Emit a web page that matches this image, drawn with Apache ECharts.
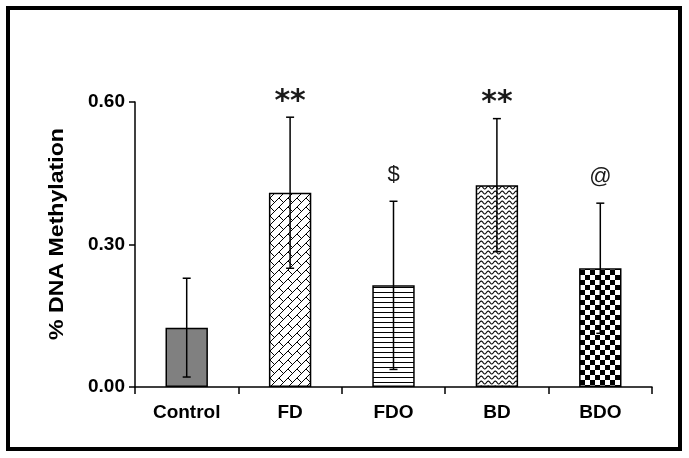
<!DOCTYPE html>
<html>
<head>
<meta charset="utf-8">
<script src="https://cdn.jsdelivr.net/npm/echarts@6/dist/echarts.min.js"></script>
<style>
html,body{margin:0;padding:0;background:#fff;}
#c{width:689px;height:458px;}
</style>
</head>
<body>
<div id="c"></div>
<script>
// ---- data ----
var categories = ['Control', 'FD', 'FDO', 'BD', 'BDO'];
var means = [0.125, 0.409, 0.214, 0.425, 0.250];
var sds = [0.104, 0.159, 0.177, 0.140, 0.137];
var marks = ['', '**', '$', '**', '@'];
var markY = [0, 0.60, 0.446, 0.598, 0.442];
var yTicks = [0, 0.3, 0.6];
var yTitle = '% DNA Methylation';

// ---- patterns ----
function tile(w, h, draw) {
  var c = document.createElement('canvas');
  c.width = w; c.height = h;
  var g = c.getContext('2d');
  g.fillStyle = '#fff';
  g.fillRect(0, 0, w, h);
  draw(g, w, h);
  return c;
}
var brick = tile(9, 9, function (g, T) {
  g.strokeStyle = '#000'; g.lineWidth = 1;
  for (var dx = -T; dx <= T; dx += T) for (var dy = -T; dy <= T; dy += T) {
    g.beginPath();
    g.moveTo(dx, dy + T); g.lineTo(dx + T, dy);
    g.moveTo(dx, dy); g.lineTo(dx + T / 2, dy + T / 2);
    g.stroke();
  }
});
var hlines = tile(4, 5, function (g, w, h) {
  g.fillStyle = '#000';
  g.fillRect(0, 2, w, 1);
});
var waves = tile(7, 5, function (g, w, h) {
  g.strokeStyle = '#000'; g.lineWidth = 1.1;
  g.beginPath();
  for (var x = -1; x <= w + 1; x += 0.5) {
    var y = 2.5 + 1.5 * Math.sin(x / w * Math.PI * 2);
    if (x === -1) g.moveTo(x, y); else g.lineTo(x, y);
  }
  g.stroke();
});
var checker = tile(10, 10, function (g) {
  g.fillStyle = '#000';
  g.fillRect(0, 0, 5, 5);
  g.fillRect(5, 5, 5, 5);
});
var fills = ['#808080',
  {image: brick, repeat: 'repeat'},
  {image: hlines, repeat: 'repeat'},
  {image: waves, repeat: 'repeat'},
  {image: checker, repeat: 'repeat'}];

var chart = echarts.init(document.getElementById('c'));
var errData = means.map(function (m, i) { return [i, m - sds[i], m + sds[i]]; });
var markData = marks.map(function (t, i) { return [i, markY[i], t]; });

chart.setOption({
  backgroundColor: '#fff',
  animation: false,
  grid: {left: 135, right: 37, top: 102, bottom: 71},
  xAxis: {
    type: 'category',
    data: categories,
    axisLine: {lineStyle: {color: '#000', width: 1.5}},
    axisTick: {show: true, inside: false, length: 7, alignWithLabel: false, lineStyle: {color: '#000', width: 1.5}},
    axisLabel: {color: '#000', fontFamily: 'Liberation Sans, Arial', fontWeight: 'bold', fontSize: 19, margin: 16},
    splitLine: {show: false}
  },
  yAxis: {
    type: 'value',
    min: 0, max: 0.6, interval: 0.3,
    axisLine: {show: true, lineStyle: {color: '#000', width: 1.5}},
    axisTick: {show: true, length: 6, lineStyle: {color: '#000', width: 1.5}},
    axisLabel: {color: '#000', fontFamily: 'Liberation Sans, Arial', fontWeight: 'bold', fontSize: 19, margin: 10,
      formatter: function (v) { return v.toFixed(2); }},
    splitLine: {show: false}
  },
  series: [
    {
      type: 'bar',
      barWidth: '41%',
      data: means.map(function (m, i) {
        return {value: m, itemStyle: {color: fills[i], borderColor: '#000', borderWidth: 1.5}};
      }),
      z: 2
    },
    {
      type: 'custom',
      data: errData,
      z: 3,
      renderItem: function (params, api) {
        var lo = api.coord([api.value(0), api.value(1)]);
        var hi = api.coord([api.value(0), api.value(2)]);
        var cap = 4;
        var st = {stroke: '#000', lineWidth: 1.5};
        return {type: 'group', children: [
          {type: 'line', shape: {x1: hi[0], y1: hi[1], x2: lo[0], y2: lo[1]}, style: st},
          {type: 'line', shape: {x1: hi[0] - cap, y1: hi[1], x2: hi[0] + cap, y2: hi[1]}, style: st},
          {type: 'line', shape: {x1: lo[0] - cap, y1: lo[1], x2: lo[0] + cap, y2: lo[1]}, style: st}
        ]};
      }
    },
    {
      type: 'custom',
      data: markData,
      z: 4,
      renderItem: function (params, api) {
        var t = marks[params.dataIndex];
        if (!t) return null;
        var p = api.coord([api.value(0), api.value(1)]);
        var star = t === '**';
        return {type: 'text', x: p[0], y: p[1], style: {
          text: t, align: 'center', verticalAlign: 'middle',
          fill: '#1a1a1a',
          font: star ? 'bold 30px "DejaVu Sans"' : 'normal 22px "Liberation Sans"'
        }};
      }
    }
  ],
  graphic: [{
    type: 'text', x: 57, y: 234, rotation: Math.PI / 2, scaleX: 1.1,
    style: {text: yTitle, align: 'center', verticalAlign: 'middle', fill: '#000',
      font: 'bold 21px "Liberation Sans", Arial'}
  }, {
    type: 'rect', shape: {x: 8, y: 8, width: 672, height: 441},
    style: {fill: 'none', stroke: '#000', lineWidth: 4}, z: 10
  }]
});
</script>
</body>
</html>
